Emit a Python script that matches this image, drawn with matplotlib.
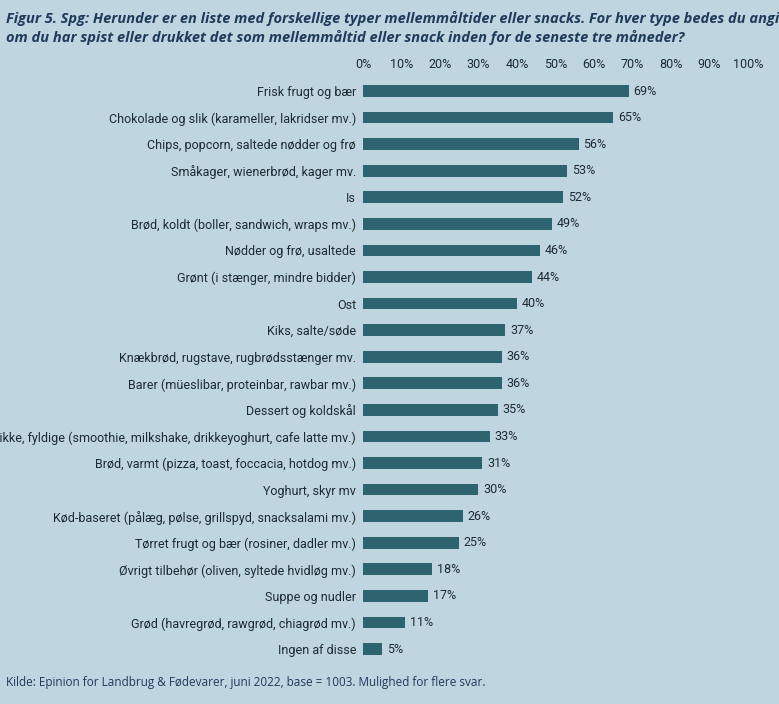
import matplotlib
matplotlib.use("Agg")
import matplotlib.pyplot as plt

categories = [
    "Frisk frugt og bær",
    "Chokolade og slik (karameller, lakridser mv.)",
    "Chips, popcorn, saltede nødder og frø",
    "Småkager, wienerbrød, kager mv.",
    "Is",
    "Brød, koldt (boller, sandwich, wraps mv.)",
    "Nødder og frø, usaltede",
    "Grønt (i stænger, mindre bidder)",
    "Ost",
    "Kiks, salte/søde",
    "Knækbrød, rugstave, rugbrødsstænger mv.",
    "Barer (müeslibar, proteinbar, rawbar mv.)",
    "Dessert og koldskål",
    "Drikke, fyldige (smoothie, milkshake, drikkeyoghurt, cafe latte mv.)",
    "Brød, varmt (pizza, toast, foccacia, hotdog mv.)",
    "Yoghurt, skyr mv",
    "Kød-baseret (pålæg, pølse, grillspyd, snacksalami mv.)",
    "Tørret frugt og bær (rosiner, dadler mv.)",
    "Øvrigt tilbehør (oliven, syltede hvidløg mv.)",
    "Suppe og nudler",
    "Grød (havregrød, rawgrød, chiagrød mv.)",
    "Ingen af disse",
]
values = [69, 65, 56, 53, 52, 49, 46, 44, 40, 37, 36, 36, 35, 33, 31, 30, 26, 25, 18, 17, 11, 5]

bg = "#bfd5df"
bar_color = "#2e6370"
text_color = "#1e2a33"
title_color = "#1f3b5c"

narrow = ['Liberation Sans Narrow', 'Roboto', 'DejaVu Sans']
plt.rcParams['font.family'] = narrow

fig = plt.figure(figsize=(7.79, 7.04), dpi=100, facecolor=bg)
ax = fig.add_axes([0.466, 0.0592, 0.494, 0.8304], facecolor=bg)

ypos = list(range(len(categories)))
ax.barh(ypos, values, height=0.44, color=bar_color)
for y, v in zip(ypos, values):
    ax.text(v + 1.2, y, f"{v}%", va="center", ha="left", fontsize=9, color=text_color)

ax.set_xlim(0, 100)
ax.set_ylim(len(categories) - 0.5, -0.5)
ax.set_yticks(ypos)
ax.set_yticklabels(categories, fontsize=9, color=text_color)
ax.set_xticks(range(0, 101, 10))
ax.set_xticklabels([f"{t}%" for t in range(0, 101, 10)], fontsize=9, color=text_color)
ax.xaxis.tick_top()
ax.tick_params(length=0, pad=5)
for s in ax.spines.values():
    s.set_visible(False)

fig.text(0.008, 0.985,
         "Figur 5. Spg: Herunder er en liste med forskellige typer mellemmåltider eller snacks. For hver type bedes du angive,\n"
         "om du har spist eller drukket det som mellemmåltid eller snack inden for de seneste tre måneder?",
         ha="left", va="top", fontsize=10.5, fontweight="bold", style="italic", color=title_color,
         linespacing=1.4, family=['Liberation Sans Narrow', 'Open Sans', 'DejaVu Sans'])
fig.text(0.008, 0.022, "Kilde: Epinion for Landbrug & Fødevarer, juni 2022, base = 1003. Mulighed for flere svar.",
         ha="left", va="bottom", fontsize=8.5, color=title_color, family=['Open Sans', 'DejaVu Sans'])

fig.savefig("out.png", dpi=100, facecolor=bg)
